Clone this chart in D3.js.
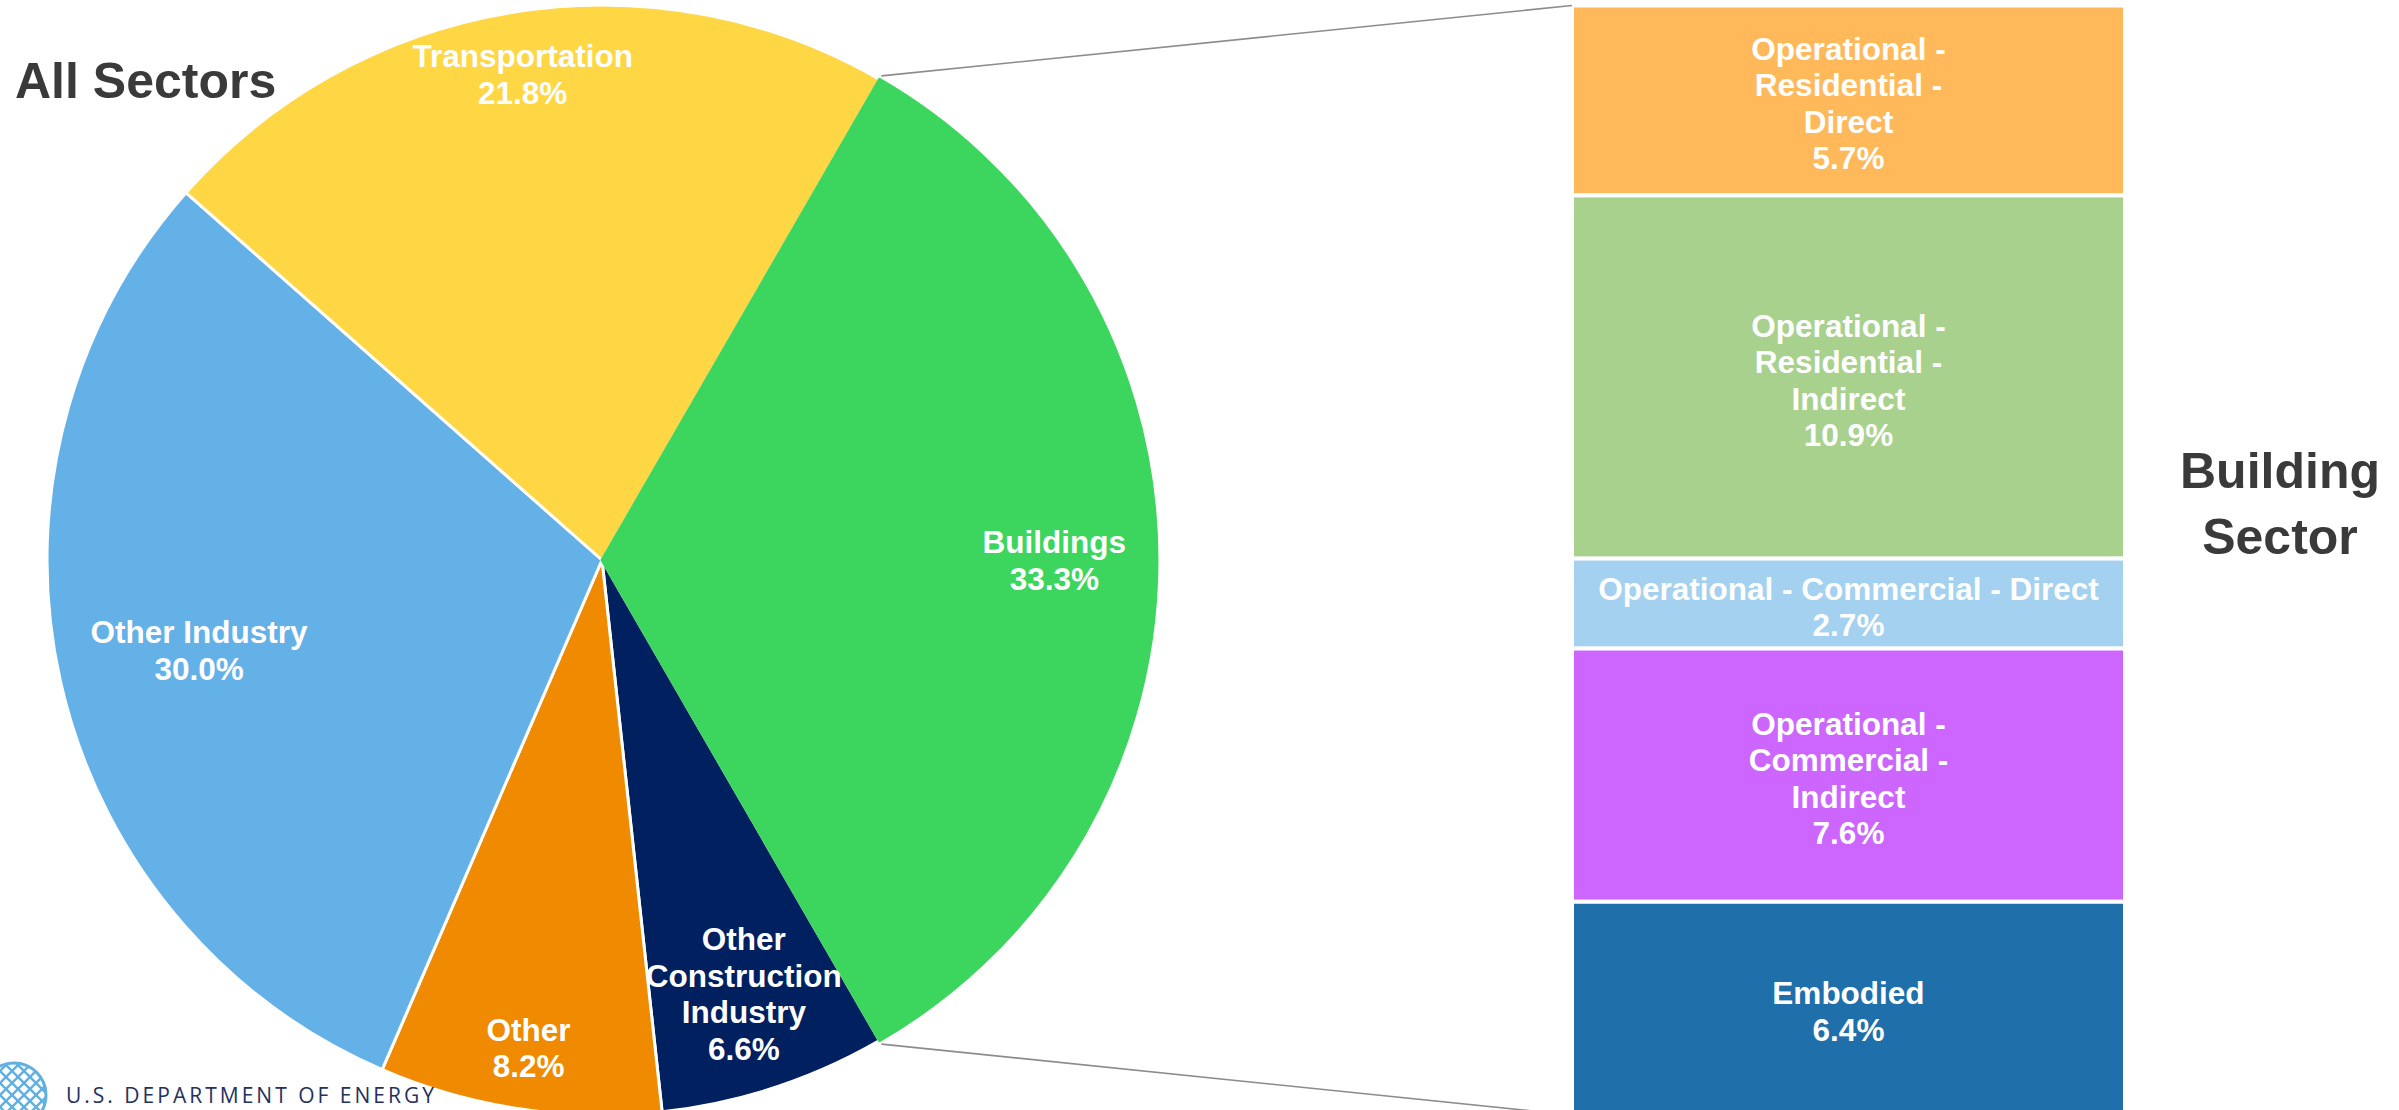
<!DOCTYPE html>
<html>
<head>
<meta charset="utf-8">
<script src="https://cdn.jsdelivr.net/npm/d3@7"></script>
<style>
  body { margin: 0; background: #fff; }
  svg { display: block; font-family: "Liberation Sans", Arial, sans-serif; }
</style>
</head>
<body>
<div id="chart"></div>
<script>
// all sectors (pie)
const sectorNames = ["Buildings", "Other\nConstruction\nIndustry", "Other", "Other Industry", "Transportation"];
const sectorValues = [33.3, 6.6, 8.2, 30.0, 21.8];
const sectorColors = ["#3cd65e", "#002060", "#f08a00", "#64b1e8", "#ffd643"];

// building sector breakdown (bar)
const buildingNames = [
  "Operational -\nResidential -\nDirect",
  "Operational -\nResidential -\nIndirect",
  "Operational - Commercial - Direct",
  "Operational -\nCommercial -\nIndirect",
  "Embodied"
];
const buildingValues = [5.7, 10.9, 2.7, 7.6, 6.4];
const buildingColors = ["#ffb95a", "#a9d18e", "#a4d1f0", "#cc66ff", "#1f6fab"];

// layout
const W = 2399, H = 1110;
const cx = 602, cy = 560, R = 555;
const labelRadius = [0.815, 0.822, 0.889, 0.744, 0.887]; // "inside end" style label spots
const fs = 31.5, lh = 36.5, cap = fs * 0.716;
const barX0 = 1572, barX1 = 2125;

const svg = d3.select("#chart").append("svg")
  .attr("width", W)
  .attr("height", H);

// text block helper, centred on (x, y)
function block(g, lines, x, y, size, color) {
  const n = lines.length;
  const first = y - ((n - 1) * lh + cap) / 2 + cap;
  const t = g.append("text")
    .attr("text-anchor", "middle")
    .attr("font-size", size)
    .attr("font-weight", "bold")
    .attr("fill", color);
  lines.forEach((l, i) => {
    t.append("tspan").attr("x", x).attr("y", first + i * lh).text(l);
  });
}

// pie
const pie = d3.pie().sort(null).value(d => d)
  .startAngle(Math.PI / 6).endAngle(Math.PI / 6 + 2 * Math.PI);
const arcs = pie(sectorValues);
const arc = d3.arc().innerRadius(0).outerRadius(R);

const pg = svg.append("g").attr("transform", `translate(${cx},${cy})`);
// others first with white borders, buildings on top
const order = [1, 2, 3, 4, 0];
order.forEach(i => {
  pg.append("path")
    .attr("d", arc(arcs[i]))
    .attr("fill", sectorColors[i])
    .attr("stroke", i === 0 ? sectorColors[i] : "#fff")
    .attr("stroke-width", 3)
    .attr("stroke-linejoin", "round");
});

arcs.forEach((a, i) => {
  const la = d3.arc().innerRadius(R * labelRadius[i]).outerRadius(R * labelRadius[i]);
  const [lx, ly] = la.centroid(a);
  const lines = sectorNames[i].split("\n").concat(sectorValues[i].toFixed(1) + "%");
  block(pg, lines, lx, ly, fs, "#fff");
});

// bar
const total = d3.sum(buildingValues);
const y = d3.scaleLinear().domain([0, total]).range([5.5, 1115]);
const ends = d3.cumsum(buildingValues);
const bg = svg.append("g");
buildingValues.forEach((v, i) => {
  const y0 = y(ends[i] - v), y1 = y(ends[i]);
  bg.append("rect")
    .attr("x", barX0)
    .attr("y", y0)
    .attr("width", barX1 - barX0)
    .attr("height", y1 - y0)
    .attr("fill", buildingColors[i])
    .attr("stroke", "#fff")
    .attr("stroke-width", 4);
  const lines = buildingNames[i].split("\n").concat(v.toFixed(1) + "%");
  block(bg, lines, (barX0 + barX1) / 2, (y0 + y1) / 2 + 3, fs, "#fff");
});

// connector lines
function edge(a, r) {
  return [cx + r * Math.sin(a), cy - r * Math.cos(a)];
}
const p0 = edge(arcs[0].startAngle, R + 4), p1 = edge(arcs[0].endAngle, R + 4);
svg.append("line")
  .attr("x1", p0[0]).attr("y1", p0[1])
  .attr("x2", barX0).attr("y2", y(0))
  .attr("stroke", "#8c8c8c").attr("stroke-width", 1.6);
svg.append("line")
  .attr("x1", p1[0]).attr("y1", p1[1])
  .attr("x2", barX0).attr("y2", y(total))
  .attr("stroke", "#8c8c8c").attr("stroke-width", 1.6);

// titles
svg.append("text")
  .attr("x", 15).attr("y", 98)
  .attr("font-size", 50).attr("font-weight", "bold")
  .attr("fill", "#3a3a3a")
  .text("All Sectors");

const bt = svg.append("text")
  .attr("text-anchor", "middle")
  .attr("font-size", 50).attr("font-weight", "bold")
  .attr("fill", "#3a3a3a");
bt.append("tspan").attr("x", 2280).attr("y", 488).text("Building");
bt.append("tspan").attr("x", 2280).attr("y", 554).text("Sector");

// DOE logo (bottom left corner)
const lg = svg.append("g");
lg.append("clipPath").attr("id", "globe")
  .append("circle").attr("cx", 14).attr("cy", 1095).attr("r", 32);
const grid = lg.append("g").attr("clip-path", "url(#globe)")
  .attr("stroke", "#62b0e2").attr("stroke-width", 2.5).attr("fill", "none");
d3.range(-60, 80, 12).forEach(o => {
  grid.append("line").attr("x1", o - 40).attr("y1", 1055).attr("x2", o + 40).attr("y2", 1135);
  grid.append("line").attr("x1", o + 40).attr("y1", 1055).attr("x2", o - 40).attr("y2", 1135);
});
lg.append("circle").attr("cx", 14).attr("cy", 1095).attr("r", 32)
  .attr("fill", "none").attr("stroke", "#62b0e2").attr("stroke-width", 3);
lg.append("text")
  .attr("x", 66).attr("y", 1103)
  .attr("font-family", "'Open Sans', sans-serif")
  .attr("font-size", 21)
  .attr("fill", "#24315e")
  .attr("textLength", 368)
  .attr("lengthAdjust", "spacing")
  .text("U.S. DEPARTMENT OF ENERGY");
</script>
</body>
</html>
